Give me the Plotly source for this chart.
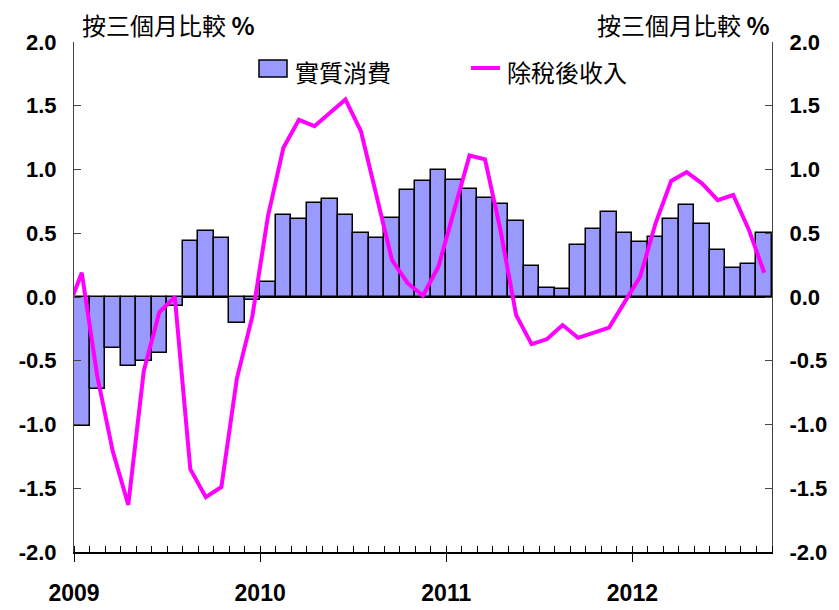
import plotly.graph_objects as go

# monthly data, Jan 2009 - Sep 2012
months = [f"{y}-{m:02d}" for y in (2009, 2010, 2011, 2012) for m in range(1, 13)][:45]
years = ["2009", "2010", "2011", "2012"]
y_ticks = [-2.0, -1.5, -1.0, -0.5, 0.0, 0.5, 1.0, 1.5, 2.0]
y_labels = ["-2.0", "-1.5", "-1.0", "-0.5", "0.0", "0.5", "1.0", "1.5", "2.0"]

real_consumption = [
    -1.01, -0.72, -0.40, -0.54, -0.50, -0.44, -0.07, 0.44, 0.52, 0.46, -0.20, -0.02,
    0.12, 0.64, 0.61, 0.74, 0.77, 0.64, 0.50, 0.46, 0.62, 0.84, 0.91, 1.00,
    0.92, 0.85, 0.78, 0.73, 0.60, 0.24, 0.07, 0.06, 0.41, 0.53, 0.67, 0.50,
    0.43, 0.47, 0.61, 0.72, 0.57, 0.37, 0.23, 0.26, 0.50,
]

# income series starts one month earlier (Dec 2008), clipped at the left edge
income_months = ["2008-12"] + months
disposable_income = [
    -0.13,
    0.19, -0.62, -1.21, -1.63, -0.58, -0.12, 0.00, -1.35, -1.57, -1.49, -0.64, -0.15,
    0.63, 1.17, 1.39, 1.34, 1.45, 1.55, 1.30, 0.78, 0.29, 0.11, 0.01, 0.24,
    0.67, 1.11, 1.08, 0.52, -0.14, -0.37, -0.33, -0.22, -0.32, -0.28, -0.24, -0.04,
    0.16, 0.58, 0.91, 0.98, 0.89, 0.76, 0.80, 0.53, 0.19,
]

BAR_COLOR = "#9999FF"
LINE_COLOR = "#FF00FF"
CJK = "Noto Sans CJK TC"
NUM = "Liberation Sans"

# page has an 8px body margin; work in page pixels and shift
OFF = 8
W, H = 839 - OFF, 610 - OFF
L, R, T, B = 74, 772, 42, 552  # plot area in page pixels


def px_x(p):
    return (p - L) / (R - L)


def px_y(p):
    return (B - p) / (B - T)


bar_x = list(range(len(months)))
line_x = list(range(-1, len(months)))

fig = go.Figure()

fig.add_trace(go.Bar(
    x=bar_x, y=real_consumption,
    customdata=months,
    marker=dict(color=BAR_COLOR, line=dict(color="black", width=1.5)),
    width=1,
    name="實質消費",
    hovertemplate="%{customdata}: %{y}<extra></extra>",
))

fig.add_trace(go.Scatter(
    x=line_x, y=disposable_income,
    customdata=income_months,
    mode="lines",
    line=dict(color=LINE_COLOR, width=4),
    name="除稅後收入",
    yaxis="y2",
    hovertemplate="%{customdata}: %{y}<extra></extra>",
))

yaxis_common = dict(
    range=[-2, 2],
    tickvals=y_ticks,
    ticktext=y_labels,
    ticks="inside",
    ticklen=7,
    tickcolor="#444",
    showline=True,
    linecolor="#444",
    linewidth=1,
    showgrid=False,
    automargin=False,
    tickfont=dict(family=NUM, size=22, color="black", weight="bold"),
    ticklabelstandoff=12,
)

fig.update_layout(
    width=W, height=H,
    margin=dict(l=L - OFF, r=W - (R - OFF), t=T - OFF, b=H - (B - OFF)),
    paper_bgcolor="white",
    plot_bgcolor="white",
    showlegend=False,
    bargap=0,
    xaxis=dict(
        range=[-0.5, len(months) - 0.5],
        tickvals=[-0.5, 11.5, 23.5, 35.5],
        ticktext=years,
        ticks="outside",
        ticklen=8,
        tickcolor="black",
        minor=dict(dtick=1, tick0=-0.5, ticks="inside", ticklen=6, tickcolor="black"),
        showline=True,
        linecolor="black",
        linewidth=1.5,
        showgrid=False,
        zeroline=False,
        automargin=False,
        tickfont=dict(family=NUM, size=23, color="black", weight="bold"),
        ticklabelstandoff=12,
    ),
    yaxis=dict(
        **yaxis_common,
        zeroline=True,
        zerolinecolor="black",
        zerolinewidth=2,
    ),
    yaxis2=dict(
        **yaxis_common,
        overlaying="y",
        side="right",
        zeroline=False,
    ),
)

# axis titles
for xa, anchor in ((px_x(80), "left"), (1.0, "right")):
    fig.add_annotation(
        x=xa, y=px_y(25), xref="paper", yref="paper",
        xanchor=anchor, yanchor="middle", showarrow=False,
        text="按三個月比較 <b>%</b>",
        font=dict(family=CJK, size=24, color="black"),
    )

# custom legend
fig.add_shape(
    type="rect", xref="paper", yref="paper",
    x0=px_x(259), x1=px_x(287), y0=px_y(77), y1=px_y(60),
    fillcolor=BAR_COLOR, line=dict(color="black", width=1.5),
)
fig.add_annotation(
    x=px_x(293), y=px_y(71), xref="paper", yref="paper",
    xanchor="left", yanchor="middle", showarrow=False,
    text="實質消費", font=dict(family=CJK, size=24, color="black"),
)
fig.add_shape(
    type="line", xref="paper", yref="paper",
    x0=px_x(471), x1=px_x(500), y0=px_y(68), y1=px_y(68),
    line=dict(color=LINE_COLOR, width=4),
)
fig.add_annotation(
    x=px_x(505), y=px_y(71), xref="paper", yref="paper",
    xanchor="left", yanchor="middle", showarrow=False,
    text="除稅後收入", font=dict(family=CJK, size=24, color="black"),
)

fig.write_html("out.html")
